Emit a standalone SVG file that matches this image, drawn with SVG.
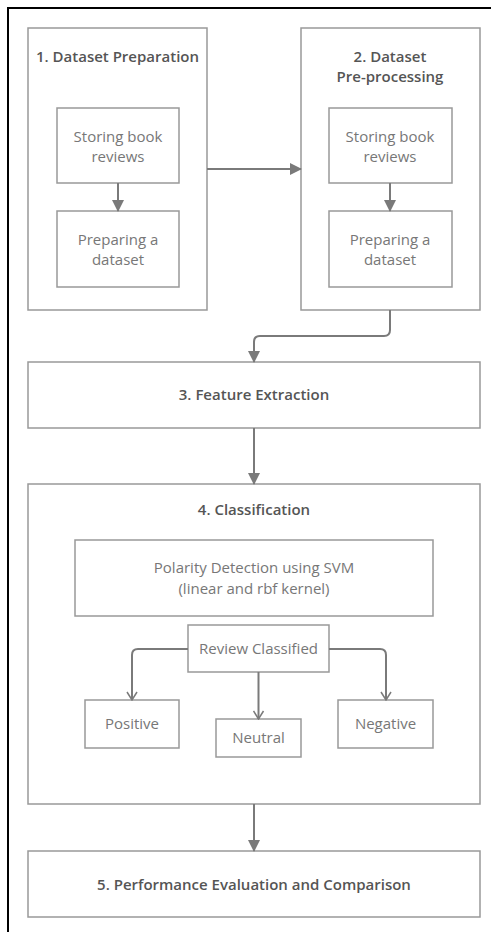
<svg xmlns="http://www.w3.org/2000/svg" width="491" height="932" viewBox="0 0 491 932">
<defs>
<style>
.frame{fill:none;stroke:#000;stroke-width:2}
.box{fill:none;stroke:#999;stroke-width:1.5}
.title{font-family:"Open Sans","Liberation Sans",sans-serif;font-size:15px;font-weight:600;fill:#555;text-anchor:middle}
.lbl{font-family:"Open Sans","Liberation Sans",sans-serif;font-size:15px;fill:#777;text-anchor:middle}
.conn{fill:none;stroke:#7a7a7a;stroke-width:2}
</style>
<marker id="fa" viewBox="0 0 12 12" refX="11" refY="6" markerWidth="12" markerHeight="12" markerUnits="userSpaceOnUse" orient="auto">
<path d="M0,0 L12,6 L0,12 Z" fill="#7a7a7a"/>
</marker>
<marker id="oa" viewBox="0 0 12 12" refX="11" refY="6" markerWidth="12" markerHeight="12" markerUnits="userSpaceOnUse" orient="auto">
<path d="M3,1 L11,6 L3,11" fill="none" stroke="#7a7a7a" stroke-width="1.5"/>
</marker>
</defs>
<rect class="frame" x="8" y="8" width="500" height="940"/>
<g id="n1">
<rect class="box" x="28" y="28" width="179" height="282"/>
<text class="title" x="117.5" y="62">1. Dataset Preparation</text>
</g>
<g id="n1a">
<rect class="box" x="57" y="108" width="122" height="75"/>
<text class="lbl" x="118" y="142">Storing book</text>
<text class="lbl" x="118" y="162">reviews</text>
</g>
<g id="n1b">
<rect class="box" x="57" y="211" width="122" height="76"/>
<text class="lbl" x="118" y="245">Preparing a</text>
<text class="lbl" x="118" y="265">dataset</text>
</g>
<g id="n2">
<rect class="box" x="301" y="28" width="179" height="282"/>
<text class="title" x="390" y="62">2. Dataset</text>
<text class="title" x="390" y="82">Pre-processing</text>
</g>
<g id="n2a">
<rect class="box" x="329" y="108" width="123" height="75"/>
<text class="lbl" x="390" y="142">Storing book</text>
<text class="lbl" x="390" y="162">reviews</text>
</g>
<g id="n2b">
<rect class="box" x="329" y="211" width="123" height="76"/>
<text class="lbl" x="390" y="245">Preparing a</text>
<text class="lbl" x="390" y="265">dataset</text>
</g>
<g id="n3">
<rect class="box" x="28" y="362" width="452" height="66"/>
<text class="title" x="254" y="400">3. Feature Extraction</text>
</g>
<g id="n4">
<rect class="box" x="28" y="484" width="452" height="320"/>
<text class="title" x="254" y="515">4. Classification</text>
</g>
<g id="n4a">
<rect class="box" x="75" y="540" width="358" height="76"/>
<text class="lbl" x="254" y="573">Polarity Detection using SVM</text>
<text class="lbl" x="254" y="594">(linear and rbf kernel)</text>
</g>
<g id="n4b">
<rect class="box" x="188" y="625" width="141" height="47"/>
<text class="lbl" x="258.5" y="654">Review Classified</text>
</g>
<g id="n4c">
<rect class="box" x="85" y="700" width="94" height="48"/>
<text class="lbl" x="132" y="729">Positive</text>
</g>
<g id="n4d">
<rect class="box" x="216" y="719" width="85" height="38"/>
<text class="lbl" x="258.5" y="743">Neutral</text>
</g>
<g id="n4e">
<rect class="box" x="338" y="700" width="95" height="48"/>
<text class="lbl" x="385.5" y="729">Negative</text>
</g>
<g id="n5">
<rect class="box" x="28" y="851" width="452" height="66"/>
<text class="title" x="254" y="890">5. Performance Evaluation and Comparison</text>
</g>
<g id="connectors">
<path class="conn" d="M118,183 V211" marker-end="url(#fa)"/>
<path class="conn" d="M390,183 V211" marker-end="url(#fa)"/>
<path class="conn" d="M207,169 H301" marker-end="url(#fa)"/>
<path class="conn" d="M390,310 V330 Q390,336 384,336 H260 Q254,336 254,342 V362" marker-end="url(#fa)"/>
<path class="conn" d="M254,428 V484" marker-end="url(#fa)"/>
<path class="conn" d="M254,804 V851" marker-end="url(#fa)"/>
<path class="conn" d="M188,649 H138 Q132,649 132,655 V700" marker-end="url(#oa)"/>
<path class="conn" d="M329,649 H380 Q386,649 386,655 V700" marker-end="url(#oa)"/>
<path class="conn" d="M258.5,672 V719" marker-end="url(#oa)"/>
</g>
</svg>
